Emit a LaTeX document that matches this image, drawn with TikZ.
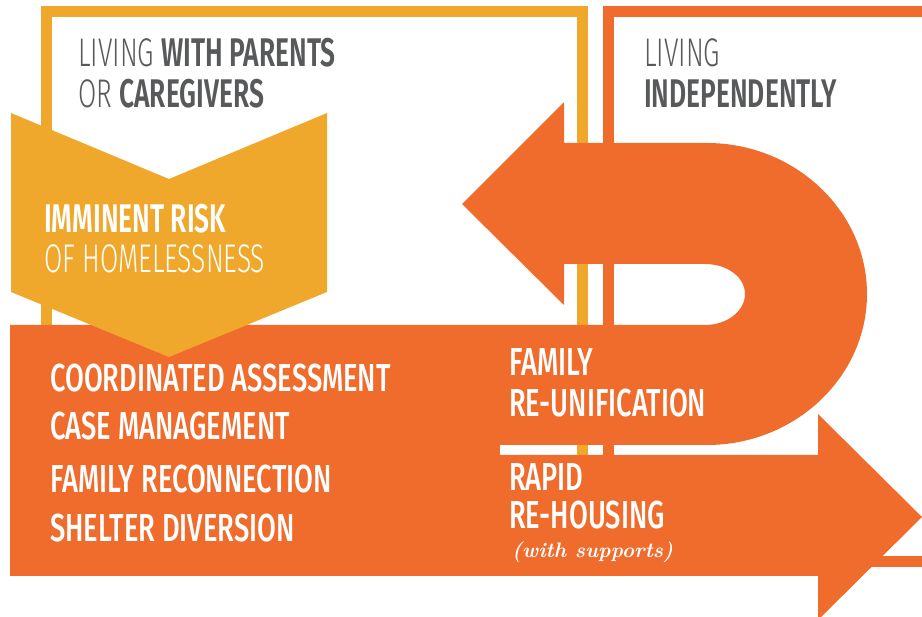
\documentclass[tikz,border=0pt]{standalone}
\usepackage{fontspec}
\usetikzlibrary{positioning}

\IfFontExistsTF{Fira Sans Light}
  {\newfontfamily\thinf{Fira Sans Light}[FakeStretch=0.66]}
  {\newfontfamily\thinf{Fira Sans}[FakeStretch=0.66]}
\IfFontExistsTF{Fira Sans SemiBold}
  {\newfontfamily\boldf{Fira Sans SemiBold}[FakeStretch=0.66]}
  {\newfontfamily\boldf{Fira Sans Bold}[FakeStretch=0.66]}
\IfFontExistsTF{Fira Sans Medium}
  {\newfontfamily\medf{Fira Sans Medium}[FakeStretch=0.70]}
  {\newfontfamily\medf{Fira Sans}[FakeStretch=0.70]}

\definecolor{riskyellow}{HTML}{F0A82C}
\definecolor{arroworange}{HTML}{EF6C2D}
\definecolor{labelgray}{HTML}{58595B}

\tikzset{
  frameline/.style={line width=11pt},
  headtxt/.style={anchor=base west, inner sep=0pt, text=labelgray, font=\fontsize{40}{40}\selectfont},
  boxtxt/.style={anchor=base west, inner sep=0pt, text=white, font=\medf\fontsize{39}{39}\selectfont},
}

\begin{document}
\begin{tikzpicture}[x=1pt, y=-1pt]
	\useasboundingbox (0,0) rectangle (922,617);
	\clip (0,0) rectangle (922,617);

	% the two frames
	\draw [frameline, riskyellow] (46,11.5) rectangle (582.5,570);
	\draw [frameline, arroworange] (608.5,11.5) rectangle (960,562);

	% u-turn arrow, its lower arm runs into the band
	\fill [arroworange] (462,204) -- (564,102) -- (564,143) -- (707,143)
		.. controls (795,143) and (867,211) .. (867,294)
		.. controls (867,377) and (795,445) .. (707,445)
		-- (10,445) -- (10,325) -- (705,325)
		.. controls (727,325) and (745,311) .. (745,294)
		.. controls (745,277) and (727,264) .. (705,264)
		-- (564,264) -- (564,305) -- cycle;

	% band and arrow to the right
	\fill [arroworange] (10,440) rectangle (500,460);
	\fill [arroworange] (10,455) -- (818,455) -- (818,414) -- (922,517)
		-- (818,620) -- (818,576) -- (10,576) -- cycle;

	% chevron
	\fill [riskyellow] (11,113) -- (169,179) -- (327,113) -- (327,292)
		-- (169,357) -- (11,292) -- cycle;

	\node [headtxt] (parents1) at (78,67) {\thinf LIVING \boldf WITH PARENTS};
	\node [headtxt] (parents2) at (78,108) {\thinf OR \boldf CAREGIVERS};
	\node [headtxt] (indep1) at (644,67) {\thinf LIVING};
	\node [headtxt] (indep2) at (644,108) {\boldf INDEPENDENTLY};

	\node [headtxt, text=white] (risk1) at (44,233) {\boldf IMMINENT RISK};
	\node [headtxt, text=white] (risk2) at (44,273) {\thinf OF HOMELESSNESS};

	\node [boxtxt] (assess) at (50,392) {COORDINATED ASSESSMENT};
	\node [boxtxt] (casemgmt) at (50,440) {CASE MANAGEMENT};
	\node [boxtxt] (reconnect) at (50,493) {FAMILY RECONNECTION};
	\node [boxtxt] (diversion) at (50,542) {SHELTER DIVERSION};

	\node [boxtxt] (reunify1) at (509,376) {FAMILY};
	\node [boxtxt] (reunify2) at (509,417) {RE-UNIFICATION};
	\node [boxtxt] (rehouse1) at (509,491) {RAPID};
	\node [boxtxt] (rehouse2) at (509,529) {RE-HOUSING};
	\node [anchor=base west, inner sep=0pt, text=white,
		font=\bfseries\itshape\fontsize{21}{21}\selectfont] (supports) at (512,558) {(with supports)};
\end{tikzpicture}
\end{document}
